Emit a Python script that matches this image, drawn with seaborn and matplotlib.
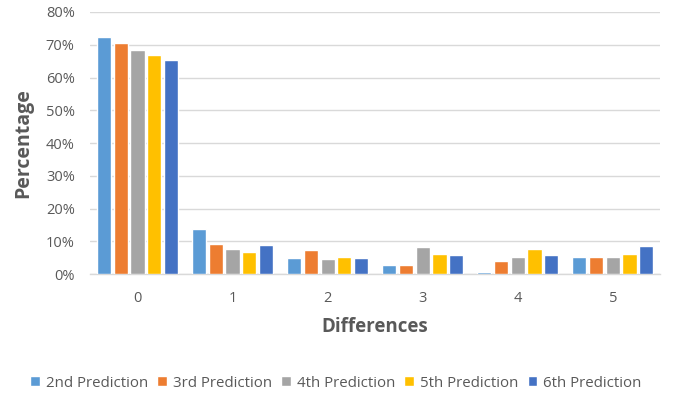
import matplotlib
matplotlib.use("Agg")
import matplotlib.pyplot as plt
import seaborn as sns
import pandas as pd
from matplotlib.ticker import PercentFormatter

differences = ["0", "1", "2", "3", "4", "5"]
series_names = ["2nd Prediction", "3rd Prediction", "4th Prediction",
                "5th Prediction", "6th Prediction"]
pred_2nd = [72.5, 13.7, 4.9, 2.9, 0.5, 5.3]
pred_3rd = [70.5, 9.2, 7.4, 2.9, 4.1, 5.3]
pred_4th = [68.5, 7.6, 4.5, 8.2, 5.3, 5.3]
pred_5th = [66.8, 6.8, 5.3, 6.1, 7.8, 6.1]
pred_6th = [65.2, 8.8, 4.9, 5.7, 5.7, 8.6]
colors = ["#5B9BD5", "#ED7D31", "#A5A5A5", "#FFC000", "#4472C4"]

rows = []
for name, vals in zip(series_names,
                      [pred_2nd, pred_3rd, pred_4th, pred_5th, pred_6th]):
    for d, v in zip(differences, vals):
        rows.append({"Differences": d, "Percentage": v, "Series": name})
df = pd.DataFrame(rows)

sns.set_theme(style="white")
plt.rcParams["font.family"] = ["Open Sans", "DejaVu Sans"]

fig = plt.figure(figsize=(6.79, 3.99), dpi=100)
ax = fig.add_axes([0.1325, 0.313, 0.84, 0.657])

sns.barplot(data=df, x="Differences", y="Percentage", hue="Series",
            hue_order=series_names, palette=colors, width=0.88, gap=0.15,
            saturation=1, ax=ax, legend=True, zorder=3)

ax.set_ylim(0, 80)
ax.set_yticks(range(0, 81, 10))
ax.yaxis.set_major_formatter(PercentFormatter(decimals=0))
ax.grid(axis="y", color="#D9D9D9", linewidth=1, zorder=0)
ax.set_axisbelow(True)
for s in ["top", "right", "left"]:
    ax.spines[s].set_visible(False)
ax.spines["bottom"].set_color("#D9D9D9")
ax.spines["bottom"].set_linewidth(1)
ax.tick_params(axis="both", length=0, labelsize=10.5, colors="#595959")
ax.tick_params(axis="x", pad=12)
ax.tick_params(axis="y", pad=11)
ax.set_xlim(-0.5, 5.5)

ax.set_xlabel("Differences", fontsize=13.5, fontweight="bold", color="#595959",
              labelpad=8)
ax.set_ylabel("Percentage", fontsize=14, fontweight="bold", color="#595959")
ax.yaxis.set_label_coords(-0.1, 0.5)

handles, labels = ax.get_legend_handles_labels()
ax.get_legend().remove()
fig.legend(handles, labels, loc="center", bbox_to_anchor=(0.495, 0.04),
           ncol=5, frameon=False, fontsize=10.8, handlelength=0.65,
           handleheight=0.65, handletextpad=0.4, columnspacing=0.6,
           labelcolor="#595959")

fig.savefig("out.png", dpi=100)
